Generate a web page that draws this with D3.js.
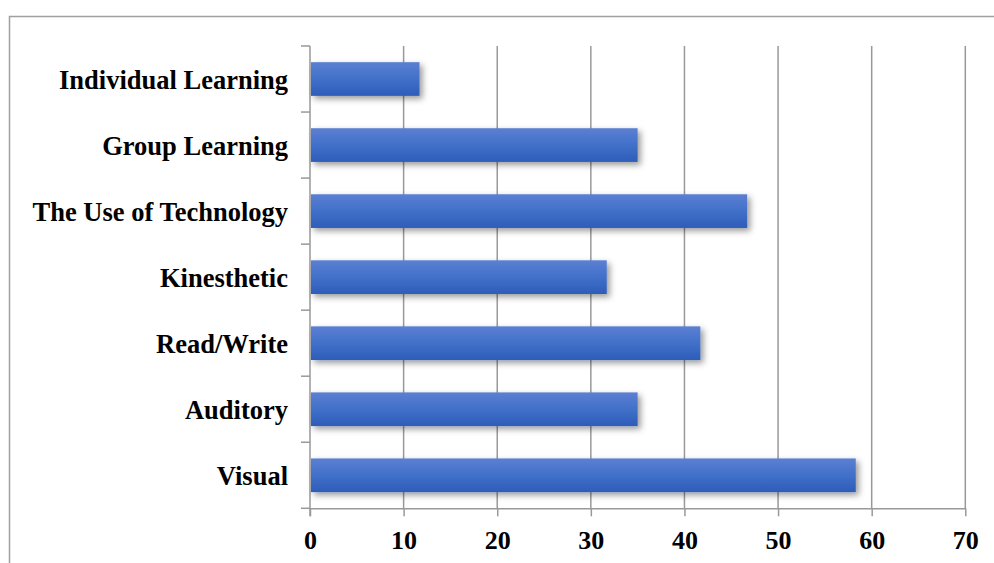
<!DOCTYPE html>
<html><head><meta charset="utf-8">
<script src="https://cdn.jsdelivr.net/npm/d3@7/dist/d3.min.js"></script>
<style>body{margin:0;background:#fff}svg{display:block}</style>
</head><body>
<svg id="c" width="994" height="563"></svg>
<script>
const categories = ["Individual Learning","Group Learning","The Use of Technology","Kinesthetic","Read/Write","Auditory","Visual"];
const values = [11.7, 35.0, 46.7, 31.7, 41.7, 35.0, 58.3];
const xTicks = [0,10,20,30,40,50,60,70];

const svg = d3.select("#c");
const pLeft = 310, pRight = 965.3, pTop = 46, pBottom = 508.3;
const x = d3.scaleLinear().domain([0,70]).range([pLeft,pRight]);
const y = d3.scaleBand().domain(categories).range([pTop,pBottom]).paddingInner(0.49).paddingOuter(0.245);
const font = "'Liberation Serif','Times New Roman',serif";

const defs = svg.append("defs");
const g = defs.append("linearGradient").attr("id","bg").attr("x1",0).attr("y1",0).attr("x2",0).attr("y2",1);
g.append("stop").attr("offset","0%").attr("stop-color","#5b80d2");
g.append("stop").attr("offset","50%").attr("stop-color","#4170c9");
g.append("stop").attr("offset","100%").attr("stop-color","#2d5cb9");
const f = defs.append("filter").attr("id","sh").attr("x","-10%").attr("y","-30%").attr("width","130%").attr("height","180%");
f.append("feDropShadow").attr("dx",3).attr("dy",3).attr("stdDeviation",3).attr("flood-color","#000").attr("flood-opacity",0.4);

// outer border
svg.append("rect").attr("x",9.5).attr("y",16.5).attr("width",1000).attr("height",600)
  .attr("fill","none").attr("stroke","#a0a0a0").attr("stroke-width",1.5);

// gridlines
svg.append("g").selectAll("line").data(xTicks.slice(1)).join("line")
  .attr("x1",d=>x(d)).attr("x2",d=>x(d)).attr("y1",pTop).attr("y2",pBottom)
  .attr("stroke","#999").attr("stroke-width",1.5);

// x axis
const xa = svg.append("g").attr("transform",`translate(0,${pBottom})`)
  .call(d3.axisBottom(x).tickValues(xTicks).tickSize(8).tickPadding(14).tickSizeOuter(0));
xa.select(".domain").attr("stroke","#999").attr("stroke-width",1.5);
xa.selectAll(".tick line").attr("stroke","#999").attr("stroke-width",1.5);
xa.selectAll(".tick text").attr("font-family",font).attr("font-weight","bold").attr("font-size",26).attr("fill","#000");

// y axis with ticks at band boundaries
const ya = svg.append("g");
ya.append("line").attr("x1",pLeft).attr("x2",pLeft).attr("y1",pTop).attr("y2",pBottom+8).attr("stroke","#999").attr("stroke-width",1.5);
const bounds = d3.range(categories.length+1).map(i=>pTop + i*(pBottom-pTop)/categories.length);
ya.selectAll("line.t").data(bounds).join("line").attr("class","t")
  .attr("x1",pLeft-9).attr("x2",pLeft).attr("y1",d=>d).attr("y2",d=>d)
  .attr("stroke","#999").attr("stroke-width",1.5);
ya.selectAll("text").data(categories).join("text")
  .attr("x",288).attr("y",d=>y(d)+y.bandwidth()/2).attr("dy","0.38em")
  .attr("text-anchor","end").attr("font-family",font).attr("font-weight","bold").attr("font-size",26.5)
  .attr("fill","#000").text(d=>d);

// bars
svg.append("g").selectAll("rect").data(categories).join("rect")
  .attr("x",x(0)+1).attr("y",d=>y(d)).attr("height",y.bandwidth())
  .attr("width",(d,i)=>x(values[i])-x(0)-1)
  .attr("fill","url(#bg)").attr("filter","url(#sh)");
</script>
</body></html>
